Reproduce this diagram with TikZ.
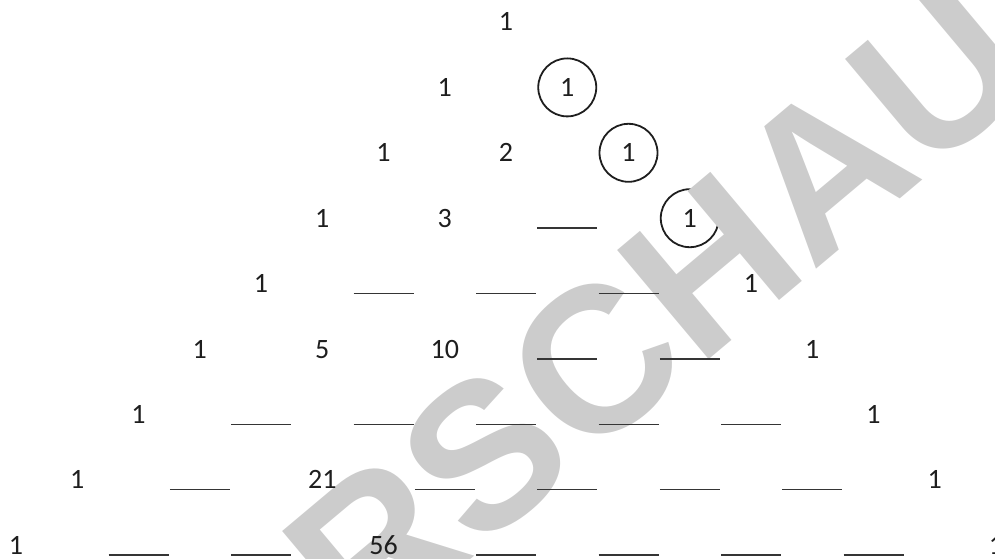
\documentclass[tikz,border=0pt]{standalone}
\usepackage{fontspec}
\setmainfont{Carlito}
\newfontfamily\wmfont{Liberation Sans}
\definecolor{wm}{HTML}{CCCCCC}
\definecolor{ink}{HTML}{1E1E1E}
\begin{document}
\begin{tikzpicture}[x=1pt,y=-1pt,
  num/.style={anchor=base, inner sep=0pt, font=\fontsize{28}{30}\selectfont, text=ink},
  blank/.style={anchor=base, inner sep=0pt, text=ink!90},
  ring/.style={circle, draw=ink, line width=1.8pt, minimum size=58pt, inner sep=0pt},
  wmark/.style={rotate=40, anchor=base west, inner sep=0pt, text=wm, font=\wmfont\bfseries\fontsize{207}{207}\selectfont}]
\useasboundingbox (0,0) rectangle (995,559);
% rings behind the watermark
\foreach \k in {1,2,3}
  \node[ring] (ring\k) at ({506+61.25*\k},{22+65.4*\k}) {};
% watermark
\node[wmark] (wm) at (134,842) {VORSCHAU};
% numbers
\foreach \k/\j/\t in {0/0/1,
  1/0/1, 1/1/1,
  2/0/1, 2/1/2, 2/2/1,
  3/0/1, 3/1/3, 3/3/1,
  4/0/1, 4/4/1,
  5/0/1, 5/1/5, 5/2/10, 5/5/1,
  6/0/1, 6/6/1,
  7/0/1, 7/2/21, 7/7/1,
  8/0/1, 8/3/56, 8/8/1}
  \node[num] (n\k-\j) at ({506+61.25*(2*\j-\k)},{31+65.4*\k}) {\t};
% blanks
\foreach \k/\j in {3/2,
  4/1, 4/2, 4/3,
  5/3, 5/4,
  6/1, 6/2, 6/3, 6/4, 6/5,
  7/1, 7/3, 7/4, 7/5, 7/6,
  8/1, 8/2, 8/4, 8/5, 8/6, 8/7}
  \node[blank] (b\k-\j) at ({506+61.25*(2*\j-\k)},{31+65.4*\k}) {\rule[-1.6pt]{60pt}{1.4pt}};
\end{tikzpicture}
\end{document}
